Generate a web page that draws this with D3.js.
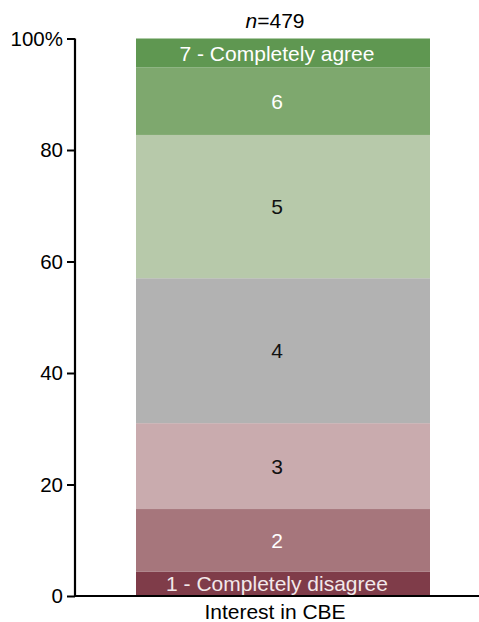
<!DOCTYPE html>
<html><head><meta charset="utf-8">
<script src="https://cdn.jsdelivr.net/npm/d3@7"></script>
<style>body{margin:0;background:#fff}svg{display:block}text{font-family:"Liberation Sans",Arial,sans-serif}</style>
</head><body><svg id="c" width="479" height="622"></svg>
<script>
const categories = ["1 - Completely disagree","2","3","4","5","6","7 - Completely agree"];
const values = [4.4, 11.2, 15.4, 26.0, 25.7, 12.1, 5.2];
const colors = ["#7f3c49","#a6767c","#c9abae","#b2b2b2","#b7c9aa","#7ea86e","#5f9751"];
const textColors = ["#f2e8ea","#ffffff","#111111","#111111","#111111","#ffffff","#ffffff"];
const tickValues = [0,20,40,60,80,100];
const tickLabels = ["0","20","40","60","80","100%"];
const group = "Interest in CBE";

const svg = d3.select("#c");
const axisX = 75;
const y = d3.scaleLinear().domain([0,100]).range([596,38.5]);

let cum = 0;
const segs = values.map((v,i)=>{const s={i,lo:cum,hi:cum+v,v}; cum+=v; return s;});

const bx = 136, bw = 294, labX = 277;
svg.selectAll("rect.seg").data(segs).enter().append("rect")
  .attr("x", bx).attr("width", bw)
  .attr("y", d=>y(d.hi)).attr("height", d=>y(d.lo)-y(d.hi))
  .attr("fill", d=>colors[d.i]);

svg.selectAll("text.lab").data(segs).enter().append("text")
  .attr("x", labX).attr("y", d=>(y(d.lo)+y(d.hi))/2)
  .attr("dy","0.36em").attr("text-anchor","middle")
  .attr("font-size", 21).attr("fill", d=>textColors[d.i])
  .text(d=>categories[d.i]);

// y axis
const yAxis = d3.axisLeft(y).tickValues(tickValues).tickFormat((d,i)=>tickLabels[i]).tickSize(8).tickPadding(4);
const g = svg.append("g").attr("transform",`translate(${axisX},0)`).call(yAxis);
g.select(".domain").attr("stroke","#000").attr("stroke-width",2.2).attr("d",`M0,${y(100)}V${y(0)+1}`);
g.selectAll(".tick line").attr("stroke","#000").attr("stroke-width",2);
g.selectAll(".tick text").attr("font-size",20.5).attr("fill","#000").attr("font-family","Liberation Sans, Arial, sans-serif");

// x axis line
svg.append("line").attr("x1",axisX-1).attr("x2",479).attr("y1",y(0)).attr("y2",y(0))
  .attr("stroke","#000").attr("stroke-width",2.2);
svg.append("text").attr("x",275).attr("y",619).attr("text-anchor","middle")
  .attr("font-size",21).attr("fill","#000").text(group);

// n label
const t = svg.append("text").attr("x",275).attr("y",28).attr("text-anchor","middle").attr("font-size",21).attr("fill","#000");
t.append("tspan").attr("font-style","italic").text("n");
t.append("tspan").text("=479");
</script></body></html>
